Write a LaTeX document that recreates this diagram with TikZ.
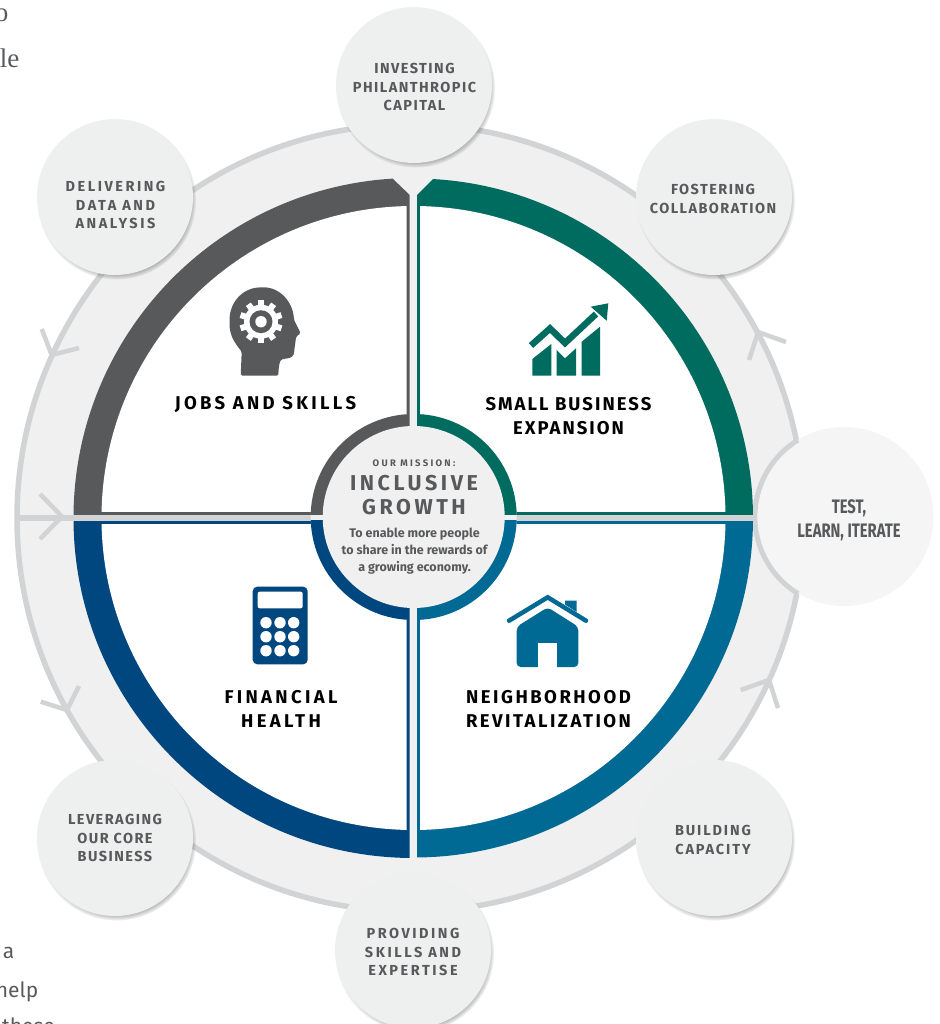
\documentclass[tikz,border=0pt]{standalone}
\usepackage{fontspec}
\setmainfont{Fira Sans}
\newfontfamily\serifpart{Liberation Serif}
\newfontfamily\satfont[LetterSpace=10]{Fira Sans}
\newfontfamily\satmid[LetterSpace=13]{Fira Sans}
\newfontfamily\satwide[LetterSpace=17.5]{Fira Sans}
\newfontfamily\headfont[LetterSpace=11]{Fira Sans}
\newfontfamily\headmid[LetterSpace=13.5]{Fira Sans}
\newfontfamily\headwide[LetterSpace=18]{Fira Sans}
\newfontfamily\missfont[LetterSpace=24]{Fira Sans}
\newfontfamily\incfont[LetterSpace=16.5]{Fira Sans}
\newfontfamily\condfont[FakeStretch=0.76]{Fira Sans}
\usetikzlibrary{shadows}
\definecolor{ringgray}{HTML}{D1D3D4}
\definecolor{panel}{HTML}{F0F0F0}
\definecolor{satfill}{HTML}{EEF0F0}
\definecolor{testfill}{HTML}{F5F5F5}
\definecolor{dgray}{HTML}{58595B}
\definecolor{teal}{HTML}{006B5F}
\definecolor{navy}{HTML}{00467F}
\definecolor{sea}{HTML}{006A94}
\tikzset{
  sat/.style={circle,minimum size=156pt,inner sep=0pt,fill=satfill,
    circular drop shadow={shadow xshift=1.5pt,shadow yshift=-3pt,shadow scale=1.02,opacity=.8,fill=black!70}},
  satlabel/.style={text=dgray,align=center,font=\fontsize{14.5}{18.7}\bfseries\satfont},
  chev/.style={draw=ringgray,line width=4.5pt,line cap=butt,line join=miter},
  title/.style={text=black,align=center,font=\fontsize{18.5}{24}\bfseries\headfont},
}
\begin{document}
\begin{tikzpicture}[x=1pt,y=-1pt]
\useasboundingbox (0,0) rectangle (939,1024);
\clip (0,0) rectangle (939,1024);
\coordinate (c) at (413.5,518);
% big panel and ring
\fill[panel,draw=ringgray,line width=5.5pt] (410.5,518) circle[radius=393.5];
% test circle
\node[circle,minimum size=179pt,inner sep=0pt,fill=testfill] (test) at (844,516.5) {};
\draw[ringgray,line width=5pt] (798,440) arc[start angle=238.6,end angle=121.4,radius=90];
\node[text=dgray,align=center,font=\fontsize{19.5}{24}\bfseries\condfont] (testlabel) at (849,520) {TEST,\\LEARN, ITERATE};
% chevrons
\coordinate (a1) at (41.7,329); \coordinate (t1) at (51.7,355); \coordinate (b1) at (79,348);
\coordinate (a2) at (40,494);   \coordinate (t2) at (62,516.5); \coordinate (b2) at (40,539);
\coordinate (a3) at (40.7,701.7); \coordinate (t3) at (67,710); \coordinate (b3) at (79,686);
\coordinate (a4) at (740.7,690); \coordinate (t4) at (769,680); \coordinate (b4) at (778,708);
\coordinate (a5) at (749,360);  \coordinate (t5) at (758,332); \coordinate (b5) at (786,342);
\foreach \i in {1,...,5}{\draw[chev] (a\i) -- (t\i) -- (b\i);}
% quadrants: gray
\begin{scope}
  \clip (0,515)--(409.7,515)--(409.7,195)--(392,178)--(392,100)--(0,100)--cycle;
  \fill[dgray] (c) circle[radius=340];
\end{scope}
\begin{scope}
  \clip (0,100) rectangle (406.7,511);
  \fill[white] (c) circle[radius=312];
\end{scope}
% teal
\begin{scope}
  \clip (417,515)--(417,195)--(434,178)--(434,100)--(900,100)--(900,515)--cycle;
  \fill[teal] (c) circle[radius=339.5];
\end{scope}
\begin{scope}
  \clip (420,100) rectangle (900,511);
  \fill[white] (c) circle[radius=312];
\end{scope}
% navy
\begin{scope}
  \clip (0,521) rectangle (409.7,900);
  \fill[navy] (c) circle[radius=340];
\end{scope}
\begin{scope}
  \clip (0,524) rectangle (406.7,900);
  \fill[white] (c) circle[radius=312];
\end{scope}
% sea
\begin{scope}
  \clip (417,521) rectangle (900,900);
  \fill[sea] (c) circle[radius=339.5];
\end{scope}
\begin{scope}
  \clip (420,524) rectangle (900,900);
  \fill[white] (c) circle[radius=312];
\end{scope}
% horizontal band
\fill[ringgray] (16,515) rectangle (312,520.7);
\fill[ringgray] (515,515) rectangle (757,520.7);
% centre
\fill[panel] (413.7,517) circle[radius=103];
\begin{scope}\clip (300,400) rectangle (409.7,514);\fill[dgray] (413.7,517) circle[radius=103];\end{scope}
\begin{scope}\clip (417,400) rectangle (530,514);\fill[teal] (413.7,517) circle[radius=103];\end{scope}
\begin{scope}\clip (300,520.7) rectangle (409.7,630);\fill[navy] (413.7,517) circle[radius=103];\end{scope}
\begin{scope}\clip (417,520.7) rectangle (530,630);\fill[sea] (413.7,517) circle[radius=103];\end{scope}
\fill[panel] (413.7,517) circle[radius=91];
\node[text=dgray,font=\fontsize{9.5}{11}\bfseries\missfont] (mission) at (414,463) {OUR MISSION:};
\node[text=dgray,align=center,font=\fontsize{21.5}{24}\bfseries\incfont] (growth) at (414,495) {INCLUSIVE\\GROWTH};
\node[text=dgray,align=center,font=\fontsize{12.5}{17}\bfseries] (enable) at (414.5,551) {To enable more people\\to share in the rewards of\\a growing economy.};
% satellites
\node[sat] (s1) at (414,85) {};
\node[sat] (s2) at (714,197) {};
\node[sat] (s3) at (714,838) {};
\node[sat] (s4) at (413,950) {};
\node[sat] (s5) at (115,838) {};
\node[sat] (s6) at (115,197) {};
\node[satlabel] (l1) at (414.5,87) {INVESTING\\PHILANTHROPIC\\CAPITAL};
\node[satlabel] (l2) at (713,199) {FOSTERING\\COLLABORATION};
\node[satlabel,font=\fontsize{14.5}{18.7}\bfseries\satmid] (l3) at (713,840) {BUILDING\\CAPACITY};
\node[satlabel,font=\fontsize{14.5}{18.7}\bfseries\satwide] (l4) at (413,952) {PROVIDING\\SKILLS AND\\EXPERTISE};
\node[satlabel] (l5) at (115,838) {LEVERAGING\\OUR CORE\\BUSINESS};
\node[satlabel,font=\fontsize{14.5}{18.7}\bfseries\satwide] (l6) at (115.5,205) {DELIVERING\\DATA AND\\ANALYSIS};
% titles
\node[title,font=\fontsize{18.5}{24}\bfseries\headwide] (t-jobs) at (265.5,404.5) {JOBS AND SKILLS};
\node[title] (t-small) at (568.5,416) {SMALL BUSINESS\\EXPANSION};
\node[title,font=\fontsize{18.5}{24}\bfseries\headwide] (t-fin) at (281,709) {FINANCIAL\\HEALTH};
\node[title,font=\fontsize{18.5}{24}\bfseries\headmid] (t-nei) at (548.5,709) {NEIGHBORHOOD\\REVITALIZATION};
% head icon
\fill[dgray,rounded corners=1.5pt] (240.7,375.7) -- (241.7,351.7)
  .. controls (234,342) and (229.5,335) .. (229.5,322)
  .. controls (229.5,300) and (245,287.3) .. (262,287.3)
  .. controls (280,287.3) and (293,302) .. (294,320)
  -- (300.7,333.3) -- (296,336.7) -- (295.5,341.7) -- (294.3,350)
  .. controls (294,356) and (291,358) .. (286,358.5)
  -- (281,359.5) .. controls (279,364) and (278.5,370) .. (278.3,375.7) -- cycle;
\foreach \a in {0,36,...,324}{
  \fill[white,shift={(261,321.7)},rotate=\a] (-3,-21.5) rectangle (3,-12);
}
\fill[white] (261,321.7) circle[radius=17];
\fill[dgray] (261,321.7) circle[radius=11.5];
\fill[white] (261,321.7) circle[radius=5.7];
% chart icon
\fill[teal] (532.3,375.7)--(532.3,359)--(551.3,344)--(551.3,375.7)--cycle;
\fill[teal] (556.7,375.7)--(556.7,350)--(565,358.3)--(576,348.3)--(576,375.7)--cycle;
\fill[teal] (581.7,375.7)--(581.7,341.7)--(600,326.7)--(600,375.7)--cycle;
\draw[teal,line width=6.5pt,line join=miter] (531,345.5)--(550,328.5)--(565,343)--(596,314);
\fill[teal] (590.7,306.7)--(608.3,303.3)--(606.7,320.7)--cycle;
% house icon
\draw[sea,line width=4.5pt,line cap=round,line join=miter] (509,620.7)--(547.7,597.3)--(586,620.7);
\fill[sea] (565,600.7)--(576.7,600.7)--(576.7,612)--(565,604.5)--cycle;
\fill[sea,rounded corners=4pt] (516.7,667)--(516.7,626.7)--(547.7,607.3)--(578.3,626.7)--(578.3,667)--cycle;
\fill[white] (538.3,642.7) rectangle (556.7,668);
% calculator icon
\fill[navy,rounded corners=4.5pt] (252.7,586.7) rectangle (307.7,664.3);
\fill[white,rounded corners=2pt] (257.7,591.7) rectangle (302.7,608.3);
\foreach \x in {266,280,293.7}\foreach \y in {622.7,636.7,650.7}{\fill[white] (\x,\y) circle[radius=5.7];}
% stray text
\node[anchor=base east,inner sep=0pt,text=dgray,font=\fontsize{27}{30}\serifpart] (p1) at (8.5,22) {o};
\node[anchor=base east,inner sep=0pt,text=dgray,font=\fontsize{27}{30}\serifpart] (p2) at (19.5,68) {le};
\node[anchor=base east,inner sep=0pt,text=dgray,font=\fontsize{21}{24}\selectfont] (p3) at (14.5,958) {a};
\node[anchor=base east,inner sep=0pt,text=dgray,font=\fontsize{21}{24}\selectfont] (p4) at (38.5,997) {help};
\node[anchor=base east,inner sep=0pt,text=dgray,font=\fontsize{21}{24}\selectfont] (p5) at (55,1033) {these};
\end{tikzpicture}
\end{document}
